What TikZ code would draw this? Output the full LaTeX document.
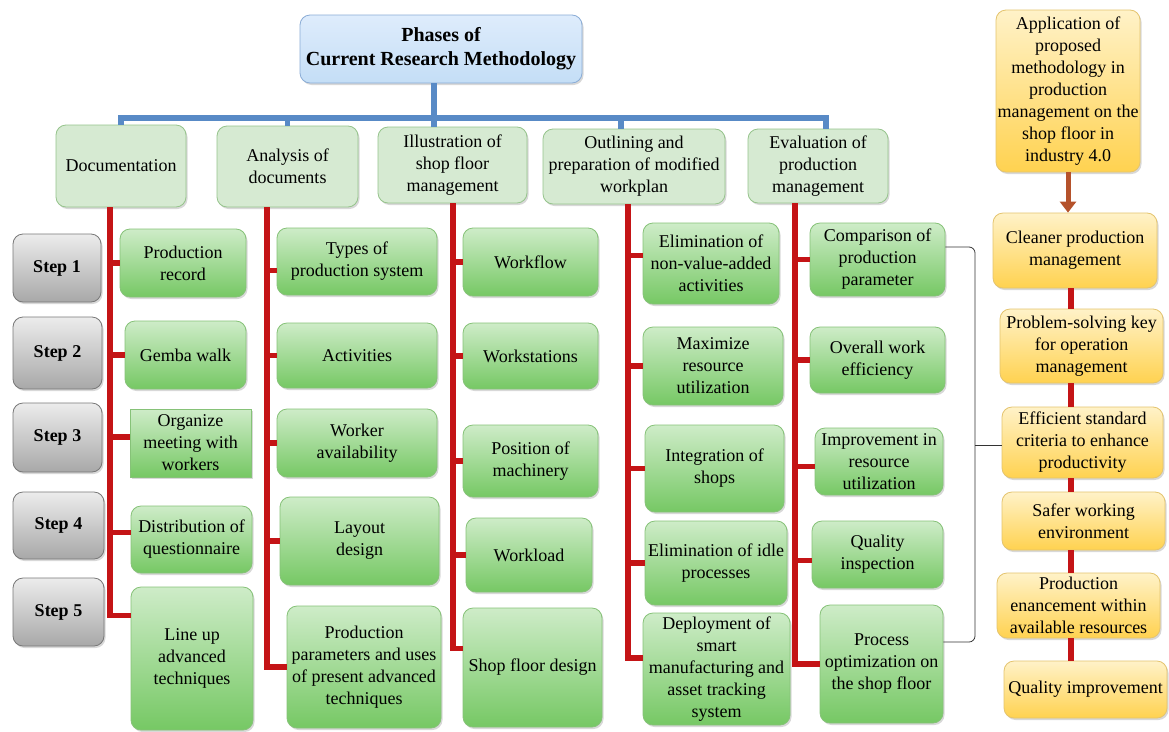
\documentclass[tikz,border=0pt]{standalone}
\usepackage{fontspec}
\setmainfont{Liberation Serif}
\usetikzlibrary{shadows,arrows.meta}

\definecolor{busblue}{RGB}{88,138,198}
\definecolor{trunkred}{RGB}{196,20,22}
\definecolor{arrowbrown}{RGB}{181,82,43}
\definecolor{headline}{RGB}{138,172,214}
\definecolor{headtop}{RGB}{222,236,252}
\definecolor{headbot}{RGB}{196,222,246}
\definecolor{phaseline}{RGB}{150,196,140}
\definecolor{phasefill}{RGB}{214,234,210}
\definecolor{taskline}{RGB}{134,194,120}
\definecolor{tasktop}{RGB}{206,236,200}
\definecolor{taskbot}{RGB}{118,200,100}
\definecolor{stepline}{RGB}{120,120,120}
\definecolor{steptop}{RGB}{236,236,236}
\definecolor{stepbot}{RGB}{168,168,168}
\definecolor{gainline}{RGB}{228,196,110}
\definecolor{gaintop}{RGB}{255,242,200}
\definecolor{gainbot}{RGB}{255,210,80}

\tikzset{
  wh/.style 2 args={minimum width=#1pt,minimum height=#2pt},
  rbox/.style={rounded corners=10pt,align=center,inner sep=1pt,line width=0.8pt,
    drop shadow={shadow xshift=1.5pt,shadow yshift=-2pt,opacity=0.3}},
  head/.style={rbox,draw=headline,top color=headtop,bottom color=headbot,
    font=\fontsize{20}{24}\selectfont\bfseries},
  phase/.style={rbox,draw=phaseline,fill=phasefill},
  task/.style={rbox,draw=taskline,top color=tasktop,bottom color=taskbot},
  stepbox/.style={rbox,draw=stepline,top color=steptop,bottom color=stepbot,
    font=\fontsize{18}{22}\selectfont\bfseries},
  gain/.style={rbox,draw=gainline,top color=gaintop,bottom color=gainbot},
  bus/.style={draw=busblue,line width=5.5pt},
  trunk/.style={draw=trunkred,line width=5.5pt},
  brace/.style={draw=black!80,line width=0.8pt,rounded corners=6pt},
}

\begin{document}
\begin{tikzpicture}[x=1pt,y=-1pt,font=\fontsize{18}{22}\selectfont]
  \fill[white] (0,0) rectangle (1169,731);
  \useasboundingbox (0,0) rectangle (1169,731);

  % title and phases
  \node[head,wh={282}{68}] (title) at (441,49) {Phases of\\Current Research Methodology};
  \node[phase,wh={130}{82}] (doc) at (121,166) {Documentation};
  \node[phase,wh={141}{81}] (ana) at (287.5,166.5) {Analysis of\\documents};
  \node[phase,wh={149}{76}] (ill) at (452.5,165) {Illustration of\\shop floor\\management};
  \node[phase,wh={182}{75}] (out) at (634,166.5) {Outlining and\\preparation of modified\\workplan};
  \node[phase,wh={140}{74}] (eva) at (818,166) {Evaluation of\\production\\management};

  % steps
  \node[stepbox,wh={88}{68}] (s1) at (57,268) {Step 1};
  \node[stepbox,wh={89}{72}] (s2) at (57.5,353) {Step 2};
  \node[stepbox,wh={89}{69}] (s3) at (57.5,437.5) {Step 3};
  \node[stepbox,wh={91}{67}] (s4) at (58.5,525.5) {Step 4};
  \node[stepbox,wh={91}{68}] (s5) at (58.5,612) {Step 5};

  % documentation
  \node[task,wh={126}{68}] (pr) at (183,263) {Production\\record};
  \node[task,wh={121}{68}] (gw) at (185.5,355) {Gemba walk};
  \node[task,wh={121}{68},sharp corners] (om) at (190.5,443) {Organize\\meeting with\\workers};
  \node[task,wh={121}{67}] (dq) at (191.5,539.5) {Distribution of\\questionnaire};
  \node[task,wh={122}{143}] (lu) at (192,658.5) {Line up\\advanced\\techniques};

  % analysis
  \node[task,wh={160}{67}] (tp) at (357,261.5) {Types of\\production system};
  \node[task,wh={160}{65}] (ac) at (357,355.5) {Activities};
  \node[task,wh={160}{68}] (wa) at (357,443) {Worker\\availability};
  \node[task,wh={159}{88}] (ld) at (359.5,541) {Layout\\design};
  \node[task,wh={154}{122}] (pp) at (364,667) {Production\\parameters and uses\\of present advanced\\techniques};

  % illustration
  \node[task,wh={135}{68}] (wf) at (530.5,262) {Workflow};
  \node[task,wh={135}{66}] (ws) at (530.5,356) {Workstations};
  \node[task,wh={135}{72}] (pm) at (530.5,461) {Position of\\machinery};
  \node[task,wh={126}{74}] (wl) at (529,555) {Workload};
  \node[task,wh={139}{119}] (sf) at (532.5,667.5) {Shop floor design};

  % outlining
  \node[task,wh={136}{81}] (el) at (711,263.5) {Elimination of\\non-value-added\\activities};
  \node[task,wh={140}{78}] (mr) at (713,366) {Maximize\\resource\\utilization};
  \node[task,wh={139}{87}] (is) at (714.5,468.5) {Integration of\\shops};
  \node[task,wh={142}{84}] (ei) at (716,563) {Elimination of idle\\processes};
  \node[task,wh={147}{112}] (dp) at (716.5,669) {Deployment of\\smart\\manufacturing and\\asset tracking\\system};

  % evaluation
  \node[task,wh={135}{73}] (cp) at (877.5,259.5) {Comparison of\\production\\parameter};
  \node[task,wh={135}{66}] (ow) at (877.5,360) {Overall work\\efficiency};
  \node[task,wh={128}{67}] (ir) at (879,461.5) {Improvement in\\resource\\utilization};
  \node[task,wh={131}{67}] (qi) at (877.5,554.5) {Quality\\inspection};
  \node[task,wh={123}{118}] (po) at (881.5,664) {Process\\optimization on\\the shop floor};

  % application column
  \node[gain,wh={144}{162}] (app) at (1068,91) {Application of\\proposed\\methodology in\\production\\management on the\\shop floor in\\industry 4.0};
  \node[gain,wh={164}{75}] (cl) at (1075,250.5) {Cleaner production\\management};
  \node[gain,wh={163}{74}] (pk) at (1081.5,346) {Problem-solving key\\for operation\\management};
  \node[gain,wh={161}{71}] (es) at (1082.5,442.5) {Efficient standard\\criteria to enhance\\productivity};
  \node[gain,wh={163}{58}] (sw) at (1083.5,521) {Safer working\\environment};
  \node[gain,wh={163}{65}] (pe) at (1078.5,605.5) {Production\\enancement within\\available resources};
  \node[gain,wh={163}{57}] (qu) at (1085.5,689.5) {Quality improvement};

  % blue bus
  \coordinate (hub) at (434,118);
  \draw[bus] (title.south -| hub) -- (hub);
  \draw[bus] (doc.north) |- (hub) -| ([xshift=8pt]eva.north);
  \draw[bus] (ana.north) -- (ana.north |- hub);
  \draw[bus] (hub) -- (ill.north -| hub);
  \draw[bus] ([xshift=-13pt]out.north) -- ([xshift=-13pt]out.north |- hub);

  % red trunks
  \coordinate (dt) at (110,207);
  \coordinate (at) at (267,207);
  \coordinate (it) at (453,203);
  \coordinate (ot) at (628,204);
  \coordinate (et) at (795,203);
  \foreach \n in {pr,gw} \draw[trunk] (dt) |- (\n.west);
  \draw[trunk] (dt) |- ([yshift=6pt]om.west);
  \draw[trunk] (dt) |- ([yshift=7pt]dq.west);
  \draw[trunk] (dt) |- ([yshift=43pt]lu.west);
  \draw[trunk] (at) |- ([yshift=-9pt]tp.west);
  \foreach \n in {ac,wa,ld,pp} \draw[trunk] (at) |- (\n.west);
  \foreach \n in {wf,ws,pm,wl} \draw[trunk] (it) |- (\n.west);
  \draw[trunk] (it) |- ([yshift=19pt]sf.west);
  \draw[trunk] (ot) |- ([yshift=8pt]el.west);
  \foreach \n in {mr,is,ei} \draw[trunk] (ot) |- (\n.west);
  \draw[trunk] (ot) |- ([yshift=11pt]dp.west);
  \draw[trunk] (et) |- (cp.west);
  \draw[trunk] (et) |- (ow.west);
  \draw[trunk] (et) |- ([yshift=-5pt]ir.west);
  \draw[trunk] (et) |- ([yshift=-6pt]qi.west);
  \draw[trunk] (et) |- (po.west);

  % application chain
  \draw[draw=arrowbrown,line width=5pt,-{Triangle[width=16pt,length=11pt]}] (app.south) -- (cl.north -| app.south);
  \coordinate (yc) at (1071,0);
  \foreach \a/\b in {cl/pk,pk/es,es/sw,sw/pe,pe/qu}
    \draw[trunk] (\a.south -| yc) -- (\b.north -| yc);

  % bracket
  \coordinate (bt) at (975,247);
  \coordinate (bm) at (975,445);
  \coordinate (bb) at (975,642);
  \draw[brace] (cp.east |- bt) -- (bt) -- (bb) -- (bb -| po.east);
  \draw[brace] (bm) -- (bm -| es.west);
\end{tikzpicture}
\end{document}
